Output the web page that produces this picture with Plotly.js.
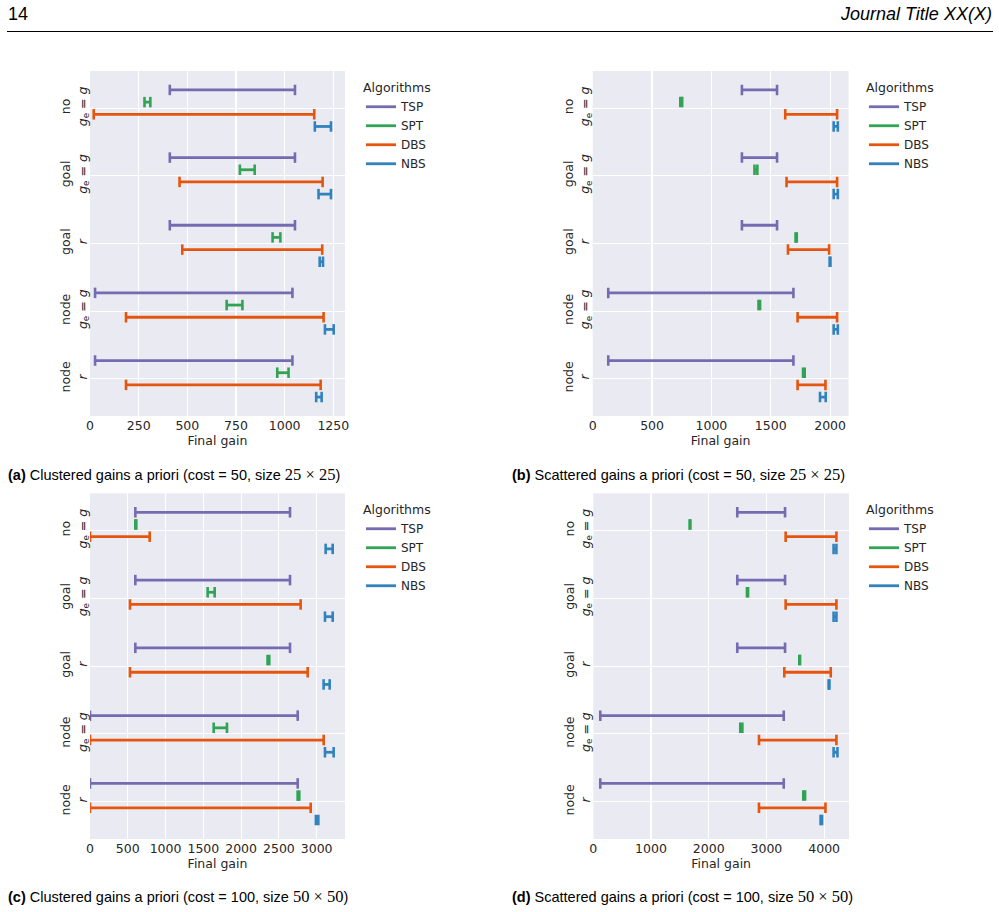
<!DOCTYPE html>
<html>
<head>
<meta charset="utf-8">
<script src="https://cdn.plot.ly/plotly-3.0.1.min.js"></script>
<style>html,body{margin:0;padding:0;background:#fff;}#chart{width:999px;height:912px;}</style>
</head>
<body>
<div id="chart"></div>
<script>
// ---------- DATA ----------
const categoryLabels = [
  "no<br><i>g</i><sub>e</sub> = <i>g</i>",
  "goal<br><i>g</i><sub>e</sub> = <i>g</i>",
  "goal<br><i>r</i>",
  "node<br><i>g</i><sub>e</sub> = <i>g</i>",
  "node<br><i>r</i>"
];
const algorithms = ["TSP", "SPT", "DBS", "NBS"];

// (a) Clustered gains a priori, cost 50, 25x25 : [min, max] per category
const A_TSP = [[410,1053],[410,1053],[410,1053],[26,1040],[26,1040]];
const A_SPT = [[280,310],[770,846],[938,978],[702,783],[962,1020]];
const A_DBS = [[19,1152],[460,1195],[474,1193],[185,1200],[185,1185]];
const A_NBS = [[1155,1238],[1174,1238],[1180,1197],[1207,1252],[1162,1190]];

// (b) Scattered gains a priori, cost 50, 25x25
const B_TSP = [[1257,1553],[1257,1553],[1257,1553],[131,1691],[131,1691]];
const B_SPT = [[738,754],[1363,1387],[1709,1719],[1397,1410],[1772,1786]];
const B_DBS = [[1622,2059],[1633,2059],[1645,1992],[1726,2059],[1726,1961]];
const B_NBS = [[2030,2065],[2030,2065],[1996,2003],[2030,2065],[1915,1963]];

// (c) Clustered gains a priori, cost 100, 50x50
const C_TSP = [[600,2647],[600,2647],[600,2647],[0,2749],[0,2749]];
const C_SPT = [[600,613],[1557,1650],[2350,2373],[1637,1813],[2748,2770]];
const C_DBS = [[0,790],[529,2788],[529,2881],[0,3093],[0,2921]];
const C_NBS = [[3119,3212],[3110,3212],[3092,3172],[3110,3225],[2990,3022]];

// (d) Scattered gains a priori, cost 100, 50x50
const D_TSP = [[2495,3323],[2495,3323],[2495,3323],[121,3300],[121,3300]];
const D_SPT = [[1669,1683],[2663,2682],[3570,3583],[2547,2583],[3639,3670]];
const D_DBS = [[3333,4213],[3333,4213],[3310,4115],[2871,4213],[2871,4023]];
const D_NBS = [[4164,4213],[4164,4213],[4078,4092],[4164,4231],[3939,3964]];

const xTicksA = [0,250,500,750,1000,1250];
const xTicksB = [0,500,1000,1500,2000];
const xTicksC = [0,500,1000,1500,2000,2500,3000];
const xTicksD = [0,1000,2000,3000,4000];

const mathSpan = s => "<span style='font-family:\"Liberation Serif\", serif;font-size:16.5px'>" + s + "</span>";
const captionA = "<b>(a)</b> Clustered gains a priori (cost = 50, size " + mathSpan("25 × 25") + ")";
const captionB = "<b>(b)</b> Scattered gains a priori (cost = 50, size " + mathSpan("25 × 25") + ")";
const captionC = "<b>(c)</b> Clustered gains a priori (cost = 100, size " + mathSpan("50 × 50") + ")";
const captionD = "<b>(d)</b> Scattered gains a priori (cost = 100, size " + mathSpan("50 × 50") + ")";

// ---------- STYLE ----------
const colors = {TSP: "#756bb1", SPT: "#31a354", DBS: "#e6550d", NBS: "#3182bd"};
const offsets = {TSP: -0.27, SPT: -0.09, DBS: 0.09, NBS: 0.27};
const W = 999, H = 912;
const txt = "#262626";
const sans = "DejaVu Sans, sans-serif";

const panels = [
  {data: {TSP:A_TSP, SPT:A_SPT, DBS:A_DBS, NBS:A_NBS}, xa: "x",  ya: "y",  legend: "legend",  ticks: xTicksA, range: [0,1310],
   px: [90, 345], py: [71, 416], leg: [361, 76]},
  {data: {TSP:B_TSP, SPT:B_SPT, DBS:B_DBS, NBS:B_NBS}, xa: "x2", ya: "y2", legend: "legend2", ticks: xTicksB, range: [0,2155],
   px: [592.7, 848.5], py: [71, 416], leg: [864, 76]},
  {data: {TSP:C_TSP, SPT:C_SPT, DBS:C_DBS, NBS:C_NBS}, xa: "x3", ya: "y3", legend: "legend3", ticks: xTicksC, range: [0,3375],
   px: [90, 345], py: [493.3, 839], leg: [361, 498]},
  {data: {TSP:D_TSP, SPT:D_SPT, DBS:D_DBS, NBS:D_NBS}, xa: "x4", ya: "y4", legend: "legend4", ticks: xTicksD, range: [0,4431],
   px: [593.3, 849], py: [493.3, 839], leg: [864, 498]}
];

const traces = [];
const layout = {
  width: W, height: H,
  margin: {l:0, r:0, t:0, b:0},
  paper_bgcolor: "#ffffff",
  plot_bgcolor: "#eaeaf2",
  showlegend: true,
  font: {family: sans, color: txt, size: 12},
  annotations: [],
  shapes: []
};

panels.forEach((p, k) => {
  algorithms.forEach(alg => {
    const pairs = p.data[alg];
    const lx = [], ly = [], cx = [], cy = [];
    pairs.forEach((pr, i) => {
      const yy = i + offsets[alg];
      lx.push(pr[0], pr[1], null); ly.push(yy, yy, null);
      cx.push(pr[0], pr[1]); cy.push(yy, yy);
    });
    traces.push({
      type: "scatter", mode: "lines", x: lx, y: ly, name: alg,
      xaxis: p.xa, yaxis: p.ya, legend: p.legend, showlegend: true,
      line: {color: colors[alg], width: 2.8}, hoverinfo: "skip"
    });
    traces.push({
      type: "scatter", mode: "markers", x: cx, y: cy, name: alg,
      xaxis: p.xa, yaxis: p.ya, showlegend: false,
      marker: {symbol: "line-ns", size: 7.5, color: colors[alg], line: {color: colors[alg], width: 2.6}},
      hoverinfo: "skip"
    });
  });
  const sfx = k === 0 ? "" : String(k + 1);
  layout["xaxis" + sfx] = {
    domain: [p.px[0]/W, p.px[1]/W], anchor: p.ya, range: p.range,
    tickmode: "array", tickvals: p.ticks, ticktext: p.ticks.map(String),
    showgrid: true, gridcolor: "#ffffff", gridwidth: 1.1, zeroline: false, showline: false,
    ticks: "", tickfont: {family: sans, size: 12.5, color: txt}, automargin: false,
    title: {text: "Final gain", font: {family: sans, size: 12.5, color: txt}, standoff: 4}
  };
  layout["yaxis" + sfx] = {
    domain: [1 - p.py[1]/H, 1 - p.py[0]/H], anchor: p.xa, range: [4.55, -0.55],
    tickmode: "array", tickvals: [0,1,2,3,4], ticktext: categoryLabels, tickangle: -90,
    showgrid: true, gridcolor: "#ffffff", gridwidth: 1.1, zeroline: false, showline: false,
    ticks: "", tickfont: {family: sans, size: 12.5, color: txt}, automargin: false
  };
  layout[p.legend] = {
    x: p.leg[0]/W, y: 1 - p.leg[1]/H, xanchor: "left", yanchor: "top",
    bgcolor: "rgba(0,0,0,0)", borderwidth: 0,
    title: {text: "Algorithms", font: {family: sans, size: 12.5, color: txt}},
    font: {family: sans, size: 12, color: txt},
    itemwidth: 30, tracegroupgap: 0
  };
});

// header
const headFont = {family: "Liberation Sans, Arial, sans-serif", size: 18, color: "#000"};
layout.annotations.push(
  {xref: "paper", yref: "paper", x: 6/W, y: 1 - 14/H, xanchor: "left", yanchor: "middle", showarrow: false,
   text: "14", font: headFont},
  {xref: "paper", yref: "paper", x: 994/W, y: 1 - 14/H, xanchor: "right", yanchor: "middle", showarrow: false,
   text: "<i>Journal Title XX(X)</i>", font: headFont}
);
layout.shapes.push({type: "line", xref: "paper", yref: "paper", x0: 7/W, x1: 993/W, y0: 1 - 31.5/H, y1: 1 - 31.5/H,
  line: {color: "#000", width: 1}});

// captions
const capFont = {family: "Liberation Sans, Arial, sans-serif", size: 14.5, color: "#000"};
[[captionA, 6, 474], [captionB, 510, 474], [captionC, 6, 896], [captionD, 510, 896]].forEach(c => {
  layout.annotations.push({xref: "paper", yref: "paper", x: c[1]/W, y: 1 - c[2]/H, xanchor: "left", yanchor: "middle",
    showarrow: false, text: c[0], font: capFont});
});

Plotly.newPlot("chart", traces, layout, {staticPlot: true, displayModeBar: false});
</script>
</body>
</html>
